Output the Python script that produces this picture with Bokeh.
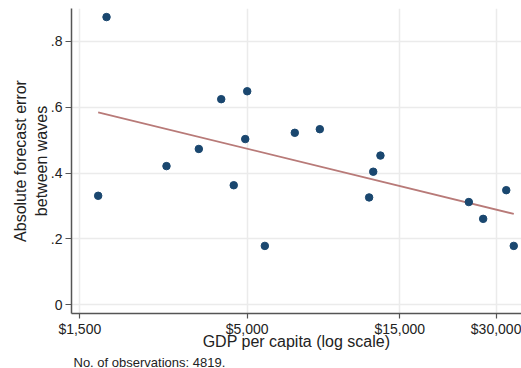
from bokeh.plotting import figure
from bokeh.models import Range1d, FixedTicker, ColumnDataSource, Title
from bokeh.embed import file_html
from bokeh.resources import INLINE

# Country-level averages: GDP per capita vs. absolute forecast error
gdp_per_capita = [1818, 1712, 2799, 3532, 4150, 5003, 4933, 4541, 5680,
                  7046, 8436, 12030, 12390, 13050, 24650, 27330, 32270, 34060]
abs_error = [0.873, 0.331, 0.421, 0.473, 0.624, 0.648, 0.503, 0.363, 0.179,
             0.522, 0.533, 0.326, 0.404, 0.453, 0.312, 0.261, 0.348, 0.179]

# Linear fit (on log GDP), evaluated at the ends of the data range
fit_gdp = [min(gdp_per_capita), max(gdp_per_capita)]
fit_error = [0.584, 0.276]

x_ticks = [1500, 5000, 15000, 30000]
x_tick_labels = ["$1,500", "$5,000", "$15,000", "$30,000"]
y_ticks = [0, 0.2, 0.4, 0.6, 0.8]
y_tick_labels = ["0", ".2", ".4", ".6", ".8"]

n_obs = 4819

FONT = "Liberation Sans"
TEXT_COLOR = "#222222"
AXIS_COLOR = "#555555"
GRID_COLOR = "#ebebeb"
DOT_COLOR = "#1a476f"
FIT_COLOR = "#b87a78"

p = figure(
    frame_width=450, frame_height=305,
    x_axis_type="log",
    x_range=Range1d(1413, 36010),
    y_range=Range1d(-0.026, 0.899),
    output_backend="svg",
    toolbar_location=None,
    min_border_left=71, min_border_right=0,
    min_border_top=8, min_border_bottom=0,
)
p.outline_line_color = None
p.background_fill_color = "white"
p.border_fill_color = "white"

# Axes
for ax in (p.xaxis[0], p.yaxis[0]):
    ax.axis_line_color = AXIS_COLOR
    ax.axis_line_width = 1.5
    ax.major_tick_line_color = AXIS_COLOR
    ax.major_tick_line_width = 1.2
    ax.major_tick_in = 0
    ax.minor_tick_line_color = None
    ax.major_label_text_font = FONT
    ax.major_label_text_font_size = "14px"
    ax.major_label_text_color = TEXT_COLOR
    ax.axis_label_text_font = FONT
    ax.axis_label_text_font_size = "16px"
    ax.axis_label_text_font_style = "normal"
    ax.axis_label_text_color = TEXT_COLOR

p.xaxis.ticker = FixedTicker(ticks=x_ticks, minor_ticks=[])
p.xaxis.major_label_overrides = dict(zip(x_ticks, x_tick_labels))
p.xaxis.major_tick_out = 5
p.xaxis.major_label_standoff = 2
p.xaxis.axis_label = "GDP per capita (log scale)"
p.xaxis.axis_label_standoff = -7

p.yaxis.ticker = FixedTicker(ticks=y_ticks, minor_ticks=[])
p.yaxis.major_label_overrides = dict(zip(y_ticks, y_tick_labels))
p.yaxis.major_tick_out = 6
p.yaxis.major_label_standoff = 3
p.yaxis.major_label_orientation = "horizontal"
p.yaxis.axis_label = "Absolute forecast error\nbetween waves"
p.yaxis.axis_label_standoff = -2

# Grid
for g in (p.xgrid[0], p.ygrid[0]):
    g.grid_line_color = GRID_COLOR
    g.grid_line_width = 1.5

# Fit line and scatter
p.line(fit_gdp, fit_error, line_color=FIT_COLOR, line_width=1.8)
src = ColumnDataSource(dict(gdp=gdp_per_capita, err=abs_error))
p.scatter("gdp", "err", source=src, size=7.5,
          fill_color=DOT_COLOR, line_color=DOT_COLOR)

# Footnote under the x-axis title
note = Title(text=f"No. of observations: {n_obs}.", align="left",
             text_font=FONT, text_font_size="13px", text_font_style="normal",
             text_color=TEXT_COLOR, standoff=0, offset=2)
p.add_layout(note, "below")

open("out.html", "w").write(file_html(p, INLINE))
